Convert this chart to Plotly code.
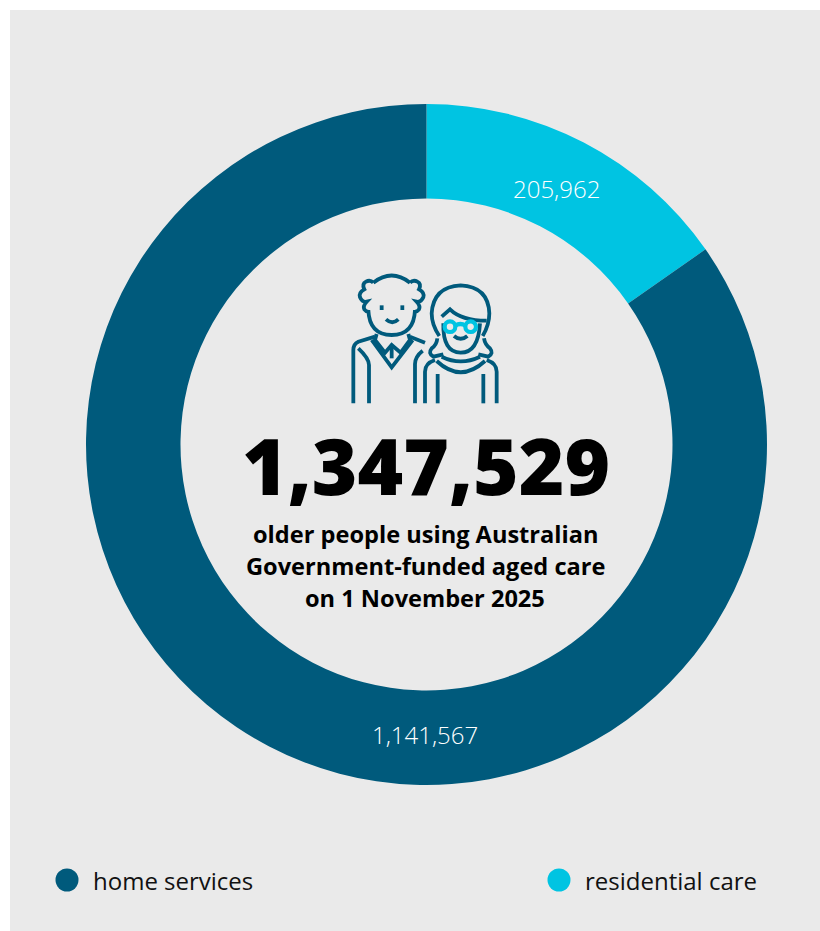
import re
import plotly.graph_objects as go

categories = ["residential care", "home services"]
values = [205962, 1141567]
total_label = "1,347,529"
subtitle_lines = ["older people using Australian", "Government-funded aged care", "on 1 November 2025"]

DARK = "#005A7C"
CYAN = "#00C4E2"
PANEL = "#EAEAEA"
W, H = 820, 931
FONT = "Open Sans"

# icon outlines in icon-local units
ICON_DARK = [
    "M130 68 Q185 25 240 68",
    "M130 68 Q120 58 108 65 Q95 72 103 88 Q85 98 90 112 Q97 128 110 125 Q98 138 103 148 Q108 155 115 155",
    "M240 68 Q250 58 262 65 Q275 72 267 88 Q285 98 280 112 Q273 128 260 125 Q272 138 267 148 Q262 155 255 155",
    "M115 150 Q118 225 185 225 Q252 225 255 150",
    "M168 178 Q187 195 205 178",
    "M155 136 L155 150", "M217 136 L217 150",
    "M135 230 L85 245 Q70 252 70 270 L70 430",
    "M85 265 Q117 295 117 315 L117 430",
    "M240 230 L285 248",
    "M125 240 L185 322 L248 240",
    "M140 222 L135 240 L165 278 L185 255 L212 278 L240 240 L235 222",
    "M185 255 L185 295",
    "M278 272 Q255 290 255 312 L255 430",
    "M328 228 Q305 195 305 160 Q310 80 392 76 Q475 80 478 160 Q478 195 458 228",
    "M335 170 L360 148 Q395 182 470 182",
    "M340 190 Q338 278 392 278 Q445 278 450 190",
    "M372 228 Q392 245 412 228",
    "M322 235 Q320 255 305 265 Q293 280 310 290 L340 283",
    "M462 235 Q465 255 480 265 Q492 280 475 290 L445 283",
    "M335 290 Q392 318 450 290",
    "M320 303 Q392 370 465 303",
    "M285 430 L285 335 Q285 310 315 300",
    "M500 430 L500 335 Q500 310 470 300",
    "M323 342 L323 430", "M460 342 L460 430",
]
ICON_CYAN = ["M375 197 Q391 187 407 197"]
ICON_RINGS = [(360, 200), (422, 200)]
RING_R = 16


def place(path):
    """Map icon-local coordinates onto the page-pixel axes."""
    out, i = [], 0
    for tok in re.findall(r"[MLQ]|-?\d+\.?\d*", path):
        if tok.isalpha():
            i = 0
            out.append(tok)
            continue
        v = float(tok) / 3 + (330 if i % 2 == 0 else 260)
        out.append(f"{v:.2f}")
        i += 1
    return " ".join(out)


fig = go.Figure()
fig.add_trace(go.Pie(
    labels=categories, values=values, sort=False, direction="clockwise", rotation=0,
    hole=246 / 340.5, textinfo="none", showlegend=False,
    marker=dict(colors=[CYAN, DARK], line=dict(width=0)),
    domain=dict(x=[86 / W, 767 / W], y=[1 - 785 / H, 1 - 104 / H]),
))
fig.add_trace(go.Scatter(
    x=[559, 67], y=[880, 880], mode="markers",
    marker=dict(size=23, color=[CYAN, DARK]),
    showlegend=False, hoverinfo="skip",
))

shapes = [dict(type="rect", xref="x", yref="y", x0=10, x1=W, y0=10, y1=H,
               fillcolor=PANEL, line_width=0, layer="below")]
for p in ICON_DARK:
    shapes.append(dict(type="path", xref="x", yref="y", path=place(p), line=dict(color=DARK, width=3.8)))
for p in ICON_CYAN:
    shapes.append(dict(type="path", xref="x", yref="y", path=place(p), line=dict(color=CYAN, width=4.2)))
for cx, cy in ICON_RINGS:
    shapes.append(dict(type="circle", xref="x", yref="y",
                       x0=(cx - RING_R) / 3 + 330, x1=(cx + RING_R) / 3 + 330,
                       y0=(cy - RING_R) / 3 + 260, y1=(cy + RING_R) / 3 + 260,
                       line=dict(color=CYAN, width=4.2)))

LIGHT = dict(family=FONT, weight=300)
annotations = [
    dict(x=556, y=188, text=f"{values[0]:,}", font=dict(size=24, color="white", **LIGHT)),
    dict(x=425, y=734, text=f"{values[1]:,}", font=dict(size=24, color="white", **LIGHT)),
    dict(x=426, y=465, text=total_label,
         font=dict(family=FONT, size=78, color="black", weight=800)),
    dict(x=91, y=880, text=categories[1], xanchor="left",
         font=dict(family=FONT, size=24, color="#111111", weight=400)),
    dict(x=583, y=880, text=categories[0], xanchor="left",
         font=dict(family=FONT, size=24, color="#111111", weight=400)),
]
for line, y in zip(subtitle_lines, [534, 566, 598]):
    annotations.append(dict(x=425, y=y, text=line,
                            font=dict(family=FONT, size=23.6, color="black", weight=700)))
for a in annotations:
    a.setdefault("xanchor", "center")
    a.update(xref="x", yref="y", showarrow=False, yanchor="middle")

fig.update_layout(
    width=W, height=H, margin=dict(l=0, r=0, t=0, b=0),
    paper_bgcolor="white", plot_bgcolor="rgba(0,0,0,0)",
    xaxis=dict(range=[0, W], visible=False, domain=[0, 1], fixedrange=True),
    yaxis=dict(range=[H, 0], visible=False, domain=[0, 1], fixedrange=True),
    shapes=shapes, annotations=annotations, showlegend=False,
)
fig.write_html("out.html", config={"displayModeBar": False},
               post_script="document.body.style.margin='0';")
